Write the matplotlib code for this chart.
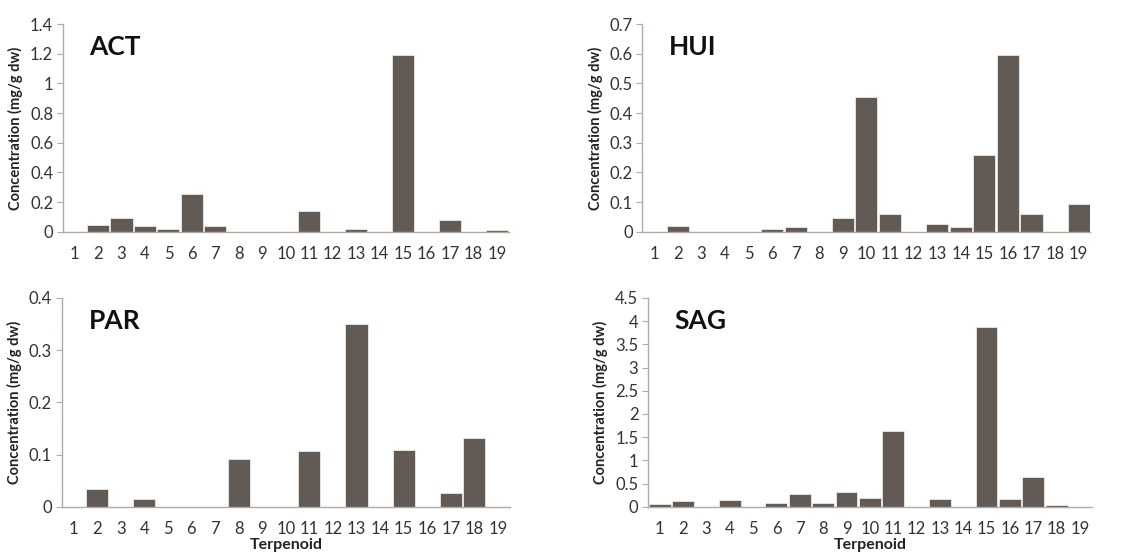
import numpy as np
import matplotlib.pyplot as plt

plt.rcParams['font.family'] = ['Lato', 'DejaVu Sans']

terpenoid = np.arange(1, 20)

act = [0, 0.045, 0.094, 0.036, 0.016, 0.252, 0.040, 0, 0, 0,
       0.142, 0, 0.018, 0, 1.19, 0, 0.083, 0, 0.011]
hui = [0, 0.019, 0, 0, 0, 0.010, 0.016, 0, 0.045, 0.454,
       0.060, 0, 0.027, 0.016, 0.258, 0.595, 0.061, 0, 0.093]
par = [0, 0.035, 0, 0.014, 0, 0, 0, 0.092, 0, 0,
       0.106, 0, 0.351, 0, 0.109, 0, 0.026, 0.131, 0]
sag = [0.065, 0.13, 0, 0.15, 0, 0.08, 0.27, 0.08, 0.32, 0.18,
       1.63, 0, 0.16, 0, 3.88, 0.16, 0.65, 0.03, 0]

panels = [
    ("ACT", act, [0, 0.2, 0.4, 0.6, 0.8, 1, 1.2, 1.4], ["0", "0.2", "0.4", "0.6", "0.8", "1", "1.2", "1.4"]),
    ("HUI", hui, [0, 0.1, 0.2, 0.3, 0.4, 0.5, 0.6, 0.7], ["0", "0.1", "0.2", "0.3", "0.4", "0.5", "0.6", "0.7"]),
    ("PAR", par, [0, 0.1, 0.2, 0.3, 0.4], ["0", "0.1", "0.2", "0.3", "0.4"]),
    ("SAG", sag, [0, 0.5, 1, 1.5, 2, 2.5, 3, 3.5, 4, 4.5],
     ["0", "0.5", "1", "1.5", "2", "2.5", "3", "3.5", "4", "4.5"]),
]

boxes = [
    [0.055, 0.586, 0.390, 0.371],
    [0.562, 0.586, 0.392, 0.371],
    [0.054, 0.095, 0.392, 0.373],
    [0.567, 0.095, 0.388, 0.373],
]

bar_color = "#625a55"
axis_color = "#b3aba3"
text_color = "#333333"

fig = plt.figure(figsize=(11.43, 5.6), dpi=100)

for i, ((name, vals, yt, ytl), box) in enumerate(zip(panels, boxes)):
    ax = fig.add_axes(box)
    ax.bar(terpenoid, vals, width=0.94, color=bar_color, edgecolor="#ece8e4", linewidth=0.6)
    ax.set_xlim(0.5, 19.5)
    ax.set_ylim(0, yt[-1])
    ax.set_yticks(yt)
    ax.set_yticklabels(ytl)
    ax.set_xticks(terpenoid)
    ax.set_xticklabels([str(t) for t in terpenoid])
    for s in ["top", "right"]:
        ax.spines[s].set_visible(False)
    for s in ["left", "bottom"]:
        ax.spines[s].set_color(axis_color)
        ax.spines[s].set_linewidth(1.0)
    ax.tick_params(axis="y", direction="out", length=4, color=axis_color,
                   labelsize=12, labelcolor=text_color, pad=3)
    ax.tick_params(axis="x", length=0, labelsize=12, labelcolor=text_color, pad=10)
    ax.set_ylabel("Concentration (mg/g dw)", fontsize=10.5, fontweight="bold", color="#222222", labelpad=5)
    ax.text(0.06, 0.89, name, transform=ax.transAxes, fontsize=19, fontweight="bold",
            color="#111111", va="center", ha="left")
    if i >= 2:
        ax.set_xlabel("Terpenoid", fontsize=11.5, fontweight="bold", color="#222222", labelpad=1)

fig.savefig("out.png", dpi=100)
